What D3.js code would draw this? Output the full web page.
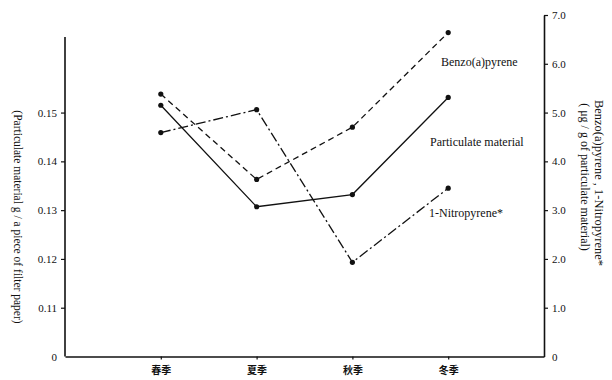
<!DOCTYPE html>
<html>
<head>
<meta charset="utf-8">
<script src="https://cdn.jsdelivr.net/npm/d3@7/dist/d3.min.js"></script>
<style>
  html, body { margin: 0; padding: 0; background: #fff; }
  svg { display: block; }
  text { font-family: "Liberation Serif", "DejaVu Serif", serif; fill: #111; }
</style>
</head>
<body>
<svg id="chart" width="612" height="380"></svg>
<script>
// Seasonal averages
const seasons = ["春季", "夏季", "秋季", "冬季"];
const particulate = [0.1515, 0.1307, 0.1332, 0.1531];   // g / filter
const benzoPyrene = [5.38, 3.63, 4.70, 6.64];          // μg / g
const nitroPyrene = [4.59, 5.06, 1.93, 3.45];          // μg / g

const leftTicks = [0.10, 0.11, 0.12, 0.13, 0.14, 0.15];
const leftTickLabels = ["0", "0.11", "0.12", "0.13", "0.14", "0.15"];
const rightTicks = [0, 1, 2, 3, 4, 5, 6, 7];
const rightTickLabels = ["0", "1.0", "2.0", "3.0", "4.0", "5.0", "6.0", "7.0"];

const svg = d3.select("#chart");
const x0 = 65, x1 = 544, yBottom = 356.5;

const x = d3.scalePoint().domain(seasons).range([x0, x1]).padding(1);
const yR = d3.scaleLinear().domain([0, 7]).range([yBottom, 15]);
const yL = d3.scaleLinear().domain([0.10, 0.17]).range([yBottom, 15]);

// Axes
const left = svg.append("g").attr("transform", `translate(${x0},0)`)
  .call(d3.axisLeft(yL).tickValues(leftTicks)
    .tickFormat((d, i) => leftTickLabels[i]).tickSize(4).tickSizeOuter(0).tickPadding(4));
left.select(".domain").attr("d", `M0,${yL(0.1655)}V${yBottom}`);

const right = svg.append("g").attr("transform", `translate(${x1},0)`)
  .call(d3.axisRight(yR).tickValues(rightTicks)
    .tickFormat((d, i) => rightTickLabels[i]).tickSize(4).tickSizeOuter(0).tickPadding(4));
right.selectAll(".tick").filter(d => d === 0).select("line").remove();

const bottom = svg.append("g").attr("transform", `translate(0,${yBottom})`)
  .call(d3.axisBottom(x).tickSize(3).tickSizeOuter(0).tickPadding(7));
bottom.selectAll("text")
  .style("font-family", '"Noto Sans CJK JP", sans-serif')
  .style("font-size", "10px").style("font-weight", "bold");

[left, right, bottom].forEach(g => {
  g.selectAll(".domain").attr("stroke", "#111").attr("stroke-width", 1.6);
  g.selectAll(".tick line").attr("stroke", "#111").attr("stroke-width", 1.2);
});
left.selectAll("text").style("font-size", "11px");
right.selectAll("text").style("font-size", "11px");
left.selectAll(".tick").filter(d => d === 0.10).select("line").remove();

// Series
const series = [
  { values: benzoPyrene, y: yR, dash: "6,4" },
  { values: particulate, y: yL, dash: null },
  { values: nitroPyrene, y: yR, dash: "10,3,2,3" }
];
series.forEach(s => {
  const line = d3.line().x((d, i) => x(seasons[i])).y(d => s.y(d));
  svg.append("path").datum(s.values)
    .attr("d", line).attr("fill", "none")
    .attr("stroke", "#111").attr("stroke-width", 1.3)
    .attr("stroke-dasharray", s.dash);
  svg.append("g").selectAll("circle").data(s.values).join("circle")
    .attr("cx", (d, i) => x(seasons[i])).attr("cy", d => s.y(d))
    .attr("r", 2.6).attr("fill", "#111");
});

// Series labels
const labels = [
  { text: "Benzo(a)pyrene", x: 441, y: 66 },
  { text: "Particulate material", x: 430, y: 146 },
  { text: "1-Nitropyrene*", x: 429, y: 217 }
];
svg.selectAll(".lbl").data(labels).join("text")
  .attr("class", "lbl").attr("x", d => d.x).attr("y", d => d.y)
  .style("font-size", "12px").text(d => d.text);

// Axis titles
svg.append("text")
  .attr("transform", "translate(14,217) rotate(90)")
  .attr("text-anchor", "middle").style("font-size", "11.5px")
  .text("(Particulate material g / a piece of filter paper)");

svg.append("text")
  .attr("transform", "translate(595,183) rotate(90)")
  .attr("text-anchor", "middle").style("font-size", "12.5px")
  .text("Benzo(a)pyrene , 1-Nitropyrene*");
svg.append("text")
  .attr("transform", "translate(581,177) rotate(90)")
  .attr("text-anchor", "middle").style("font-size", "12px")
  .text("( μg / g of particulate material)");
</script>
</body>
</html>
